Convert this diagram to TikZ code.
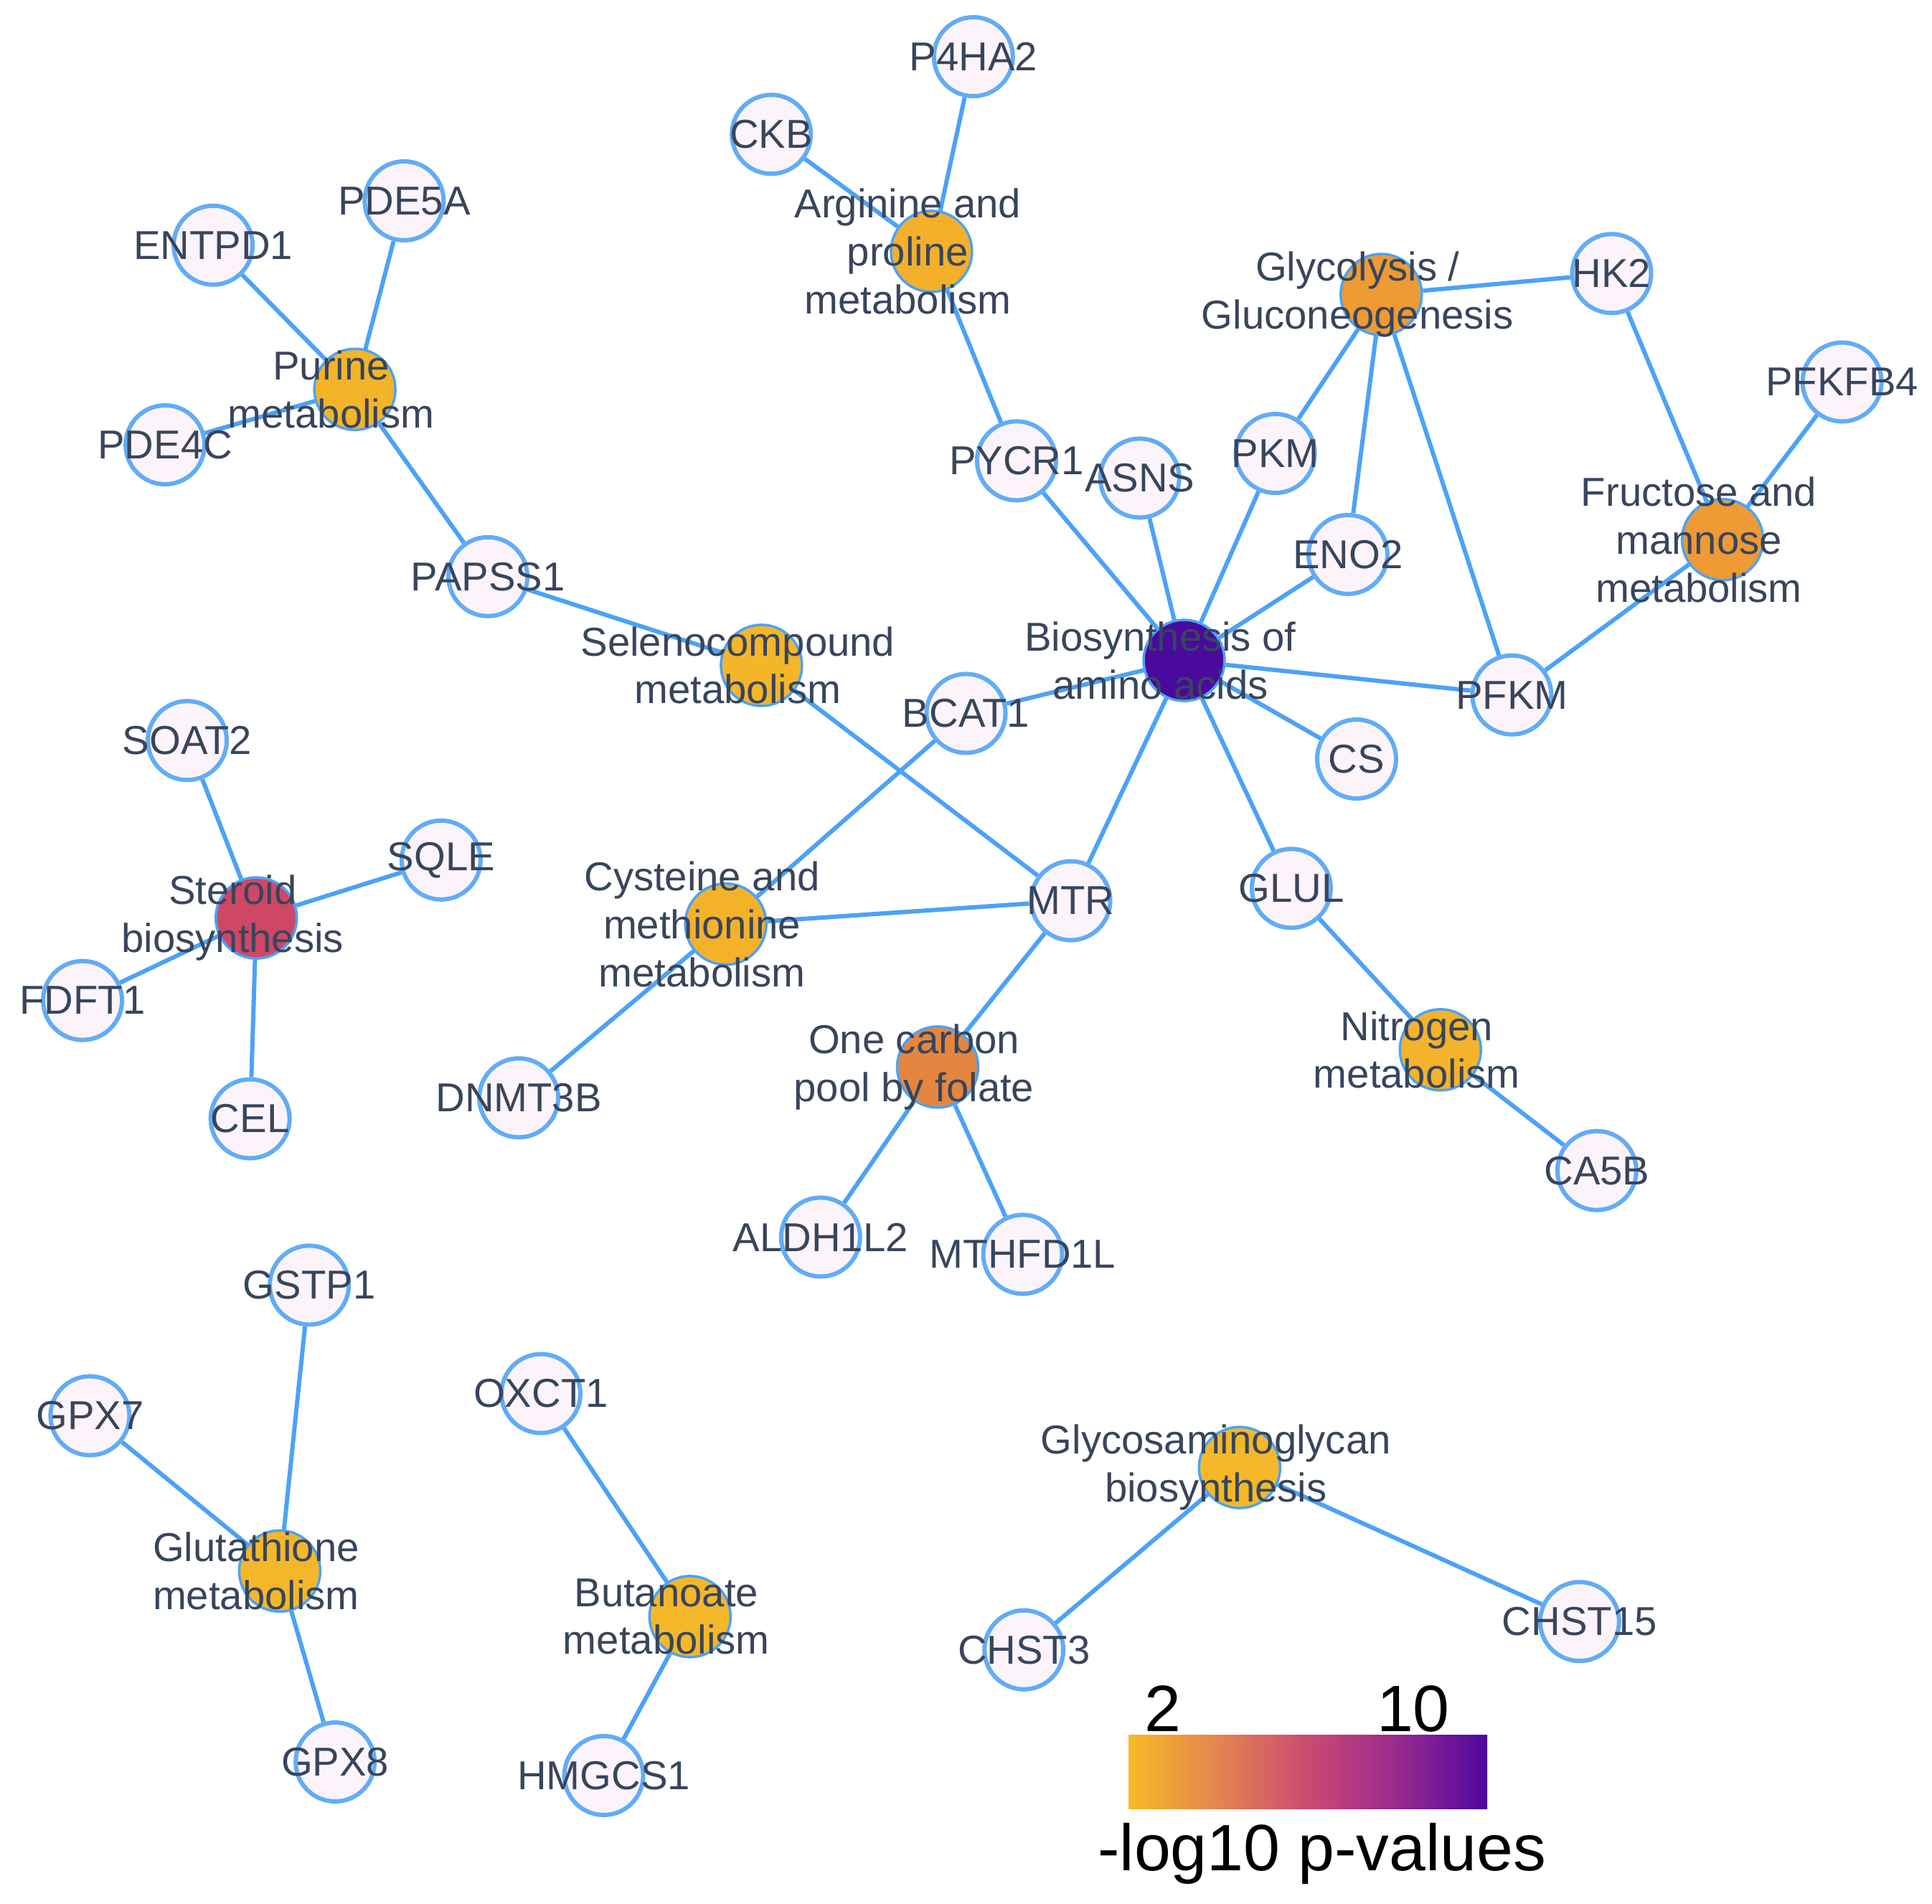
\documentclass[tikz,border=0pt]{standalone}
\usepackage{fontspec}
\setmainfont{Liberation Sans}
\usepackage{tikz}
\usetikzlibrary{backgrounds}

\definecolor{edgeblue}{HTML}{4CA2F7}
\definecolor{ringblue}{HTML}{62ACF6}
\definecolor{genefill}{HTML}{FCF4FA}
\definecolor{labeltext}{HTML}{38455C}
% pathway colours (-log10 p)
\definecolor{cArg}{HTML}{F4AF2B}
\definecolor{cGlyc}{HTML}{EE9A35}
\definecolor{cPur}{HTML}{F4B42A}
\definecolor{cFru}{HTML}{EE9A35}
\definecolor{cSel}{HTML}{F5B52A}
\definecolor{cBio}{HTML}{4A0A9E}
\definecolor{cSte}{HTML}{CE4865}
\definecolor{cCys}{HTML}{F4B22A}
\definecolor{cOne}{HTML}{E4863F}
\definecolor{cNit}{HTML}{F4B32A}
\definecolor{cGlu}{HTML}{F5B72A}
\definecolor{cBut}{HTML}{F5B72A}
\definecolor{cGag}{HTML}{F5B82A}
% colour bar
\definecolor{pl0}{HTML}{F6BA26}
\definecolor{pl1}{HTML}{E4844F}
\definecolor{pl2}{HTML}{CB4A72}
\definecolor{pl3}{HTML}{982A8E}
\definecolor{pl4}{HTML}{4E079F}
\pgfdeclarehorizontalshading{plasmabar}{100bp}{color(0bp)=(pl0); color(25bp)=(pl0);
  color(37.5bp)=(pl1); color(50bp)=(pl2); color(62.5bp)=(pl3); color(75bp)=(pl4); color(100bp)=(pl4)}

\tikzset{
    gene/.style = {
        draw=ringblue,
        fill=genefill,
        shape=circle,
        minimum size=11mm,
        inner sep=0pt,
        line width=0.6mm,
        label={[genetext]center:#1}
    },
    genetext/.style = {
        text=labeltext,
        font=\fontsize{16}{19}\selectfont,
        inner sep=0pt
    },
    pathway/.style = {
        draw=edgeblue,
        fill=#1,
        shape=circle,
        minimum size=11.3mm,
        inner sep=0pt,
        line width=0.35mm
    },
    pathtext/.style = {
        text=labeltext,
        font=\fontsize{16}{19}\selectfont,
        align=center,
        inner sep=0pt,
        xshift=-3.3mm
    },
    link/.style = {
        draw=edgeblue,
        line width=0.6mm
    },
    legendtext/.style = {
        font=\fontsize{26}{30}\selectfont,
        text=black,
        inner sep=0pt,
        anchor=base
    },
}

\begin{document}
\begin{tikzpicture}[x=0.1717mm, y=-0.1717mm]
    \useasboundingbox (0,0) rectangle (1568,1545);

    % genes
    \node[gene=P4HA2] (p4ha2) at (790,46) {};
    \node[gene=CKB] (ckb) at (626,109) {};
    \node[gene=PDE5A] (pde5a) at (328,163) {};
    \node[gene=ENTPD1] (entpd1) at (173,199) {};
    \node[gene=PDE4C] (pde4c) at (134,361) {};
    \node[gene=PAPSS1] (papss1) at (396,468) {};
    \node[gene=PYCR1] (pycr1) at (825,374) {};
    \node[gene=ASNS] (asns) at (925,388) {};
    \node[gene=PKM] (pkm) at (1035,368) {};
    \node[gene=ENO2] (eno2) at (1094,450) {};
    \node[gene=HK2] (hk2) at (1308,222) {};
    \node[gene=PFKFB4] (pfkfb4) at (1495,310) {};
    \node[gene=PFKM] (pfkm) at (1227,564) {};
    \node[gene=CS] (cs) at (1101,616) {};
    \node[gene=BCAT1] (bcat1) at (784,579) {};
    \node[gene=SOAT2] (soat2) at (152,601) {};
    \node[gene=SQLE] (sqle) at (358,698) {};
    \node[gene=FDFT1] (fdft1) at (67,812) {};
    \node[gene=CEL] (cel) at (203,908) {};
    \node[gene=MTR] (mtr) at (869,731) {};
    \node[gene=GLUL] (glul) at (1048,721) {};
    \node[gene=DNMT3B] (dnmt3b) at (421,891) {};
    \node[gene=CA5B] (ca5b) at (1296,950) {};
    \node[gene=ALDH1L2] (aldh1l2) at (666,1004) {};
    \node[gene=MTHFD1L] (mthfd1l) at (830,1018) {};
    \node[gene=GSTP1] (gstp1) at (251,1043) {};
    \node[gene=GPX7] (gpx7) at (73,1149) {};
    \node[gene=OXCT1] (oxct1) at (439,1131) {};
    \node[gene=GPX8] (gpx8) at (272,1430) {};
    \node[gene=HMGCS1] (hmgcs1) at (490,1441) {};
    \node[gene=CHST3] (chst3) at (831,1339) {};
    \node[gene=CHST15] (chst15) at (1282,1316) {};

    % pathways
    \node[pathway=cArg, label={[pathtext]center:{Arginine and\\proline\\metabolism}}] (arg) at (756,204) {};
    \node[pathway=cGlyc, label={[pathtext]center:{Glycolysis /\\Gluconeogenesis}}] (glyc) at (1121,239) {};
    \node[pathway=cPur, label={[pathtext]center:{Purine\\metabolism}}] (pur) at (288,316) {};
    \node[pathway=cFru, label={[pathtext]center:{Fructose and\\mannose\\metabolism}}] (fru) at (1398,438) {};
    \node[pathway=cSel, label={[pathtext]center:{Selenocompound\\metabolism}}] (sel) at (618,540) {};
    \node[pathway=cBio, label={[pathtext]center:{Biosynthesis of\\amino acids}}] (bio) at (961,536) {};
    \node[pathway=cSte, label={[pathtext]center:{Steroid\\biosynthesis}}] (ste) at (208,745) {};
    \node[pathway=cCys, label={[pathtext]center:{Cysteine and\\methionine\\metabolism}}] (cys) at (589,750) {};
    \node[pathway=cOne, label={[pathtext]center:{One carbon\\pool by folate}}] (one) at (761,866) {};
    \node[pathway=cNit, label={[pathtext]center:{Nitrogen\\metabolism}}] (nit) at (1169,852) {};
    \node[pathway=cGlu, label={[pathtext]center:{Glutathione\\metabolism}}] (glu) at (227,1275) {};
    \node[pathway=cBut, label={[pathtext]center:{Butanoate\\metabolism}}] (but) at (560,1312) {};
    \node[pathway=cGag, label={[pathtext]center:{Glycosaminoglycan\\biosynthesis}}] (gag) at (1006,1191) {};

    %connect
    \begin{scope}[on background layer]
        \draw[link] (ckb) -- (arg);
        \draw[link] (p4ha2) -- (arg);
        \draw[link] (arg) -- (pycr1);
        \draw[link] (entpd1) -- (pur);
        \draw[link] (pde5a) -- (pur);
        \draw[link] (pde4c) -- (pur);
        \draw[link] (pur) -- (papss1);
        \draw[link] (papss1) -- (sel);
        \draw[link] (sel) -- (mtr);
        \draw[link] (glyc) -- (hk2);
        \draw[link] (glyc) -- (pkm);
        \draw[link] (glyc) -- (eno2);
        \draw[link] (glyc) -- (pfkm);
        \draw[link] (hk2) -- (fru);
        \draw[link] (pfkfb4) -- (fru);
        \draw[link] (fru) -- (pfkm);
        \foreach \g in {pycr1,asns,pkm,eno2,pfkm,cs,glul,mtr,bcat1}
            \draw[link] (bio) -- (\g);
        \draw[link] (bcat1) -- (cys);
        \draw[link] (cys) -- (mtr);
        \draw[link] (cys) -- (dnmt3b);
        \draw[link] (mtr) -- (one);
        \draw[link] (one) -- (aldh1l2);
        \draw[link] (one) -- (mthfd1l);
        \draw[link] (glul) -- (nit);
        \draw[link] (nit) -- (ca5b);
        \foreach \g in {soat2,sqle,fdft1,cel}
            \draw[link] (ste) -- (\g);
        \foreach \g in {gstp1,gpx7,gpx8}
            \draw[link] (glu) -- (\g);
        \draw[link] (oxct1) -- (but);
        \draw[link] (but) -- (hmgcs1);
        \draw[link] (gag) -- (chst3);
        \draw[link] (gag) -- (chst15);
    \end{scope}

    % legend
    \node[shading=plasmabar, minimum width=50mm, minimum height=10.3mm, inner sep=0pt] (cbar) at (1061.5,1438) {};
    \node[legendtext] (lo) at (944,1405) {2};
    \node[legendtext] (hi) at (1147,1405) {10};
    \node[legendtext] (ltitle) at (1073,1518) {-log10 p-values};

\end{tikzpicture}
\end{document}
